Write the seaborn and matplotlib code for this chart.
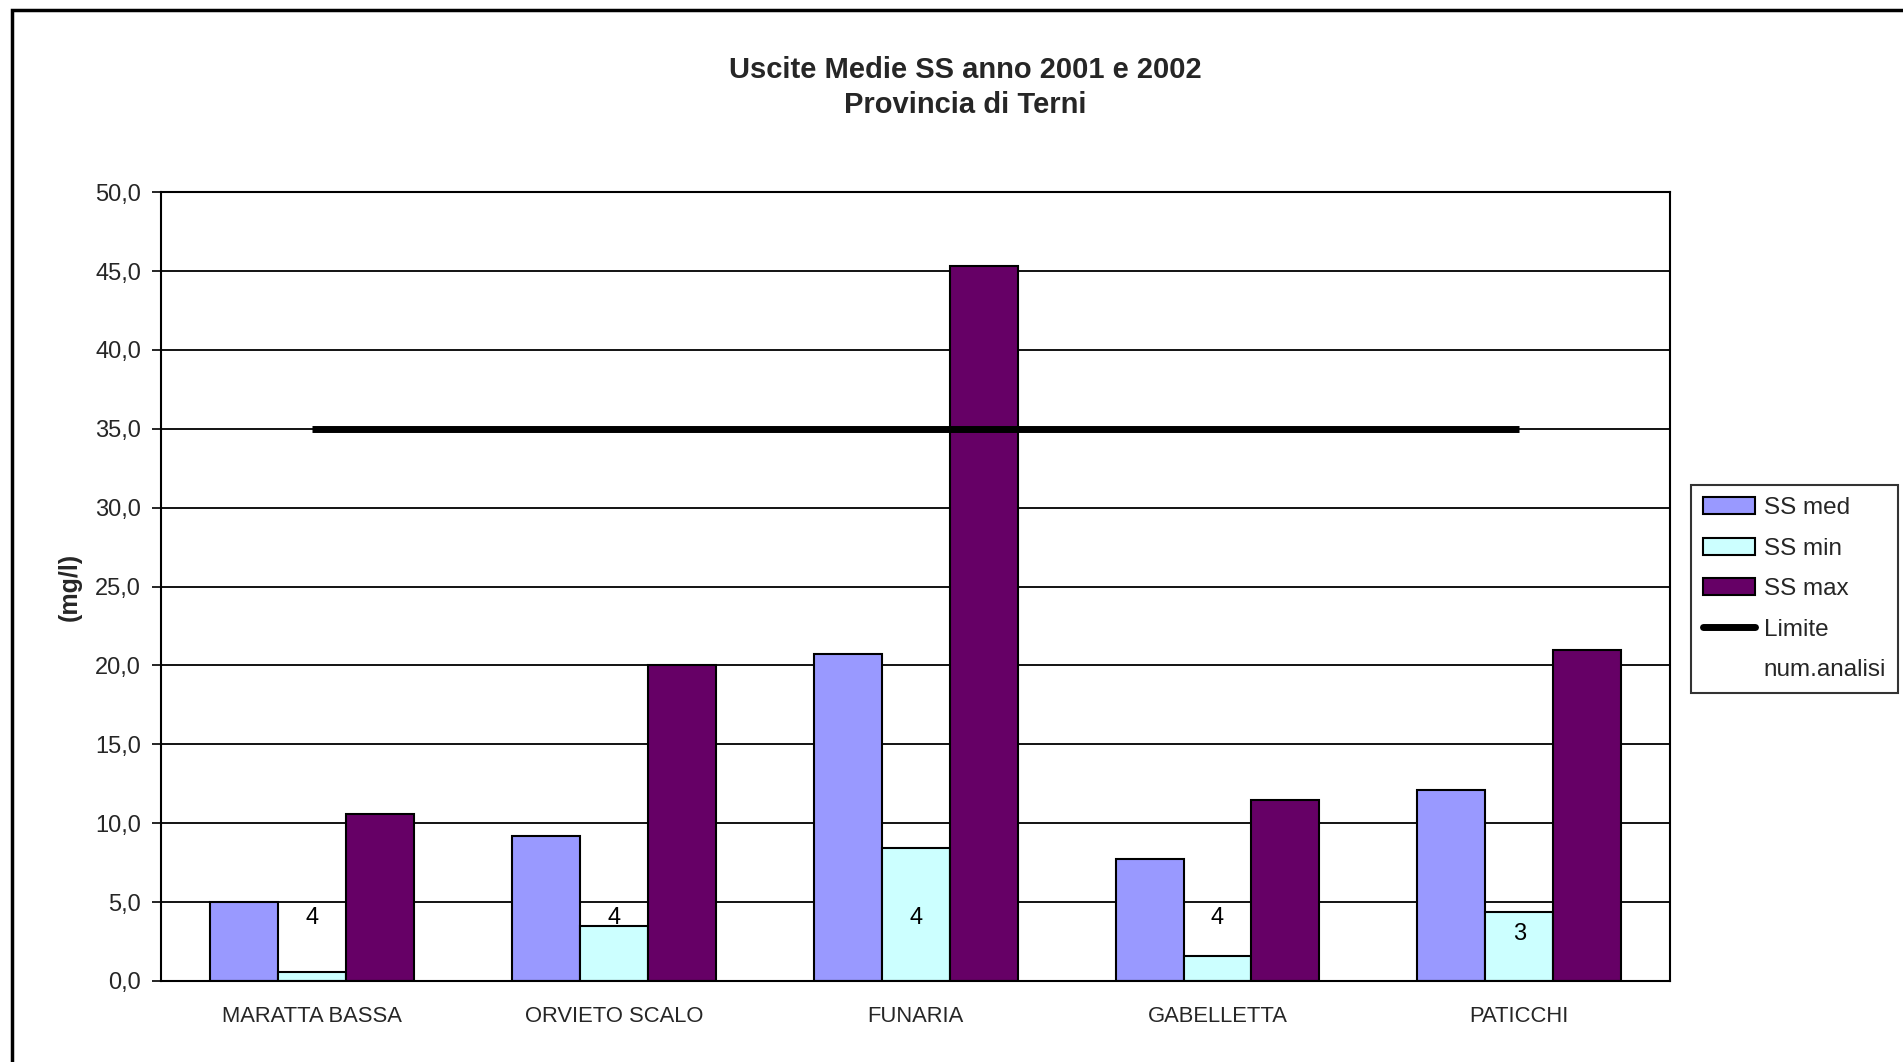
import numpy as np
import pandas as pd
import matplotlib
matplotlib.use("Agg")
import matplotlib.pyplot as plt
from matplotlib.patches import Patch, Rectangle
from matplotlib.lines import Line2D
import seaborn as sns

# ---- data ----
categories = ["MARATTA BASSA", "ORVIETO SCALO", "FUNARIA", "GABELLETTA", "PATICCHI"]
ss_med = [5.0, 9.2, 20.7, 7.7, 12.1]
ss_min = [0.6, 3.5, 8.4, 1.6, 4.4]
ss_max = [10.6, 20.0, 45.3, 11.5, 21.0]
limite = [35.0, 35.0, 35.0, 35.0, 35.0]
num_analisi = [4, 4, 4, 4, 3]
series_names = ["SS med", "SS min", "SS max"]
series_colors = ["#9999FF", "#CCFFFF", "#660066"]
y_ticks = [0, 5, 10, 15, 20, 25, 30, 35, 40, 45, 50]
y_tick_labels = ["0,0", "5,0", "10,0", "15,0", "20,0", "25,0", "30,0", "35,0", "40,0", "45,0", "50,0"]
title_lines = ["Uscite Medie SS anno 2001 e 2002", "Provincia di Terni"]
y_label = "(mg/l)"

df = pd.DataFrame({
    "categoria": categories * 3,
    "serie": [series_names[0]] * 5 + [series_names[1]] * 5 + [series_names[2]] * 5,
    "valore": ss_med + ss_min + ss_max,
})

sns.set_style("white")
plt.rcParams["font.family"] = ["Liberation Sans", "DejaVu Sans"]

fig = plt.figure(figsize=(19.03, 10.62), dpi=100)
ax = fig.add_axes([0.0848, 0.0763, 0.7928, 0.7428])

sns.barplot(data=df, x="categoria", y="valore", hue="serie", order=categories,
            hue_order=series_names, palette=series_colors, width=0.675,
            edgecolor="black", linewidth=1.5, saturation=1, ax=ax, legend=False)

xpos = np.arange(len(categories))
ax.plot(xpos, limite, color="black", linewidth=5, solid_capstyle="butt", zorder=5)

for i, n in enumerate(num_analisi):
    ax.text(xpos[i], num_analisi[i], str(n), ha="center", va="center",
            fontsize=17, color="black", zorder=6)

ax.set_xlim(-0.5, len(categories) - 0.5)
ax.set_ylim(0, 50)
ax.set_yticks(y_ticks)
ax.set_yticklabels(y_tick_labels, fontsize=17)
ax.set_xticks(xpos)
ax.set_xticklabels(categories, fontsize=15.8)
ax.set_xticks(np.arange(-0.5, len(categories), 1), minor=True)
ax.tick_params(axis="x", which="major", length=0, pad=18)
ax.tick_params(axis="x", which="minor", length=5, width=1.2, direction="out", color="black")
ax.tick_params(axis="y", length=6.5, width=1.2, direction="out", color="black", pad=8, left=True)
ax.set_xlabel("")
ax.set_ylabel(y_label, fontsize=18, fontweight="bold")
ax.yaxis.set_label_coords(-0.053, 0.5)

ax.yaxis.grid(True, color="black", linewidth=1.3)
ax.xaxis.grid(False)
ax.set_axisbelow(True)
for s in ax.spines.values():
    s.set_visible(True)
    s.set_color("black")
    s.set_linewidth(1.5)

fig.text(0.507, 1 - 70 / 1062, title_lines[0], ha="center", va="center",
         fontsize=21, fontweight="bold")
fig.text(0.507, 1 - 105 / 1062, title_lines[1], ha="center", va="center",
         fontsize=21, fontweight="bold")

handles = [Patch(facecolor=c, edgecolor="black", linewidth=1.5) for c in series_colors]
handles.append(Line2D([0], [0], color="black", linewidth=5))
handles.append(Line2D([0], [0], color="none"))
labels = series_names + ["Limite", "num.analisi"]
leg = fig.legend(handles, labels, loc="upper left", bbox_to_anchor=(0.8886, 0.5433),
                 bbox_transform=fig.transFigure, borderaxespad=0, frameon=True,
                 fancybox=False, edgecolor="black", fontsize=17.5, handlelength=2.15,
                 handletextpad=0.35, labelspacing=0.76, borderpad=0.5)
leg.get_frame().set_linewidth(1.5)

fig.patches.append(Rectangle((12 / 1903, -0.1), 1.2, 1.1 - 10 / 1062,
                             transform=fig.transFigure, fill=False,
                             edgecolor="black", linewidth=2.5))

fig.savefig("out.png", dpi=100)
